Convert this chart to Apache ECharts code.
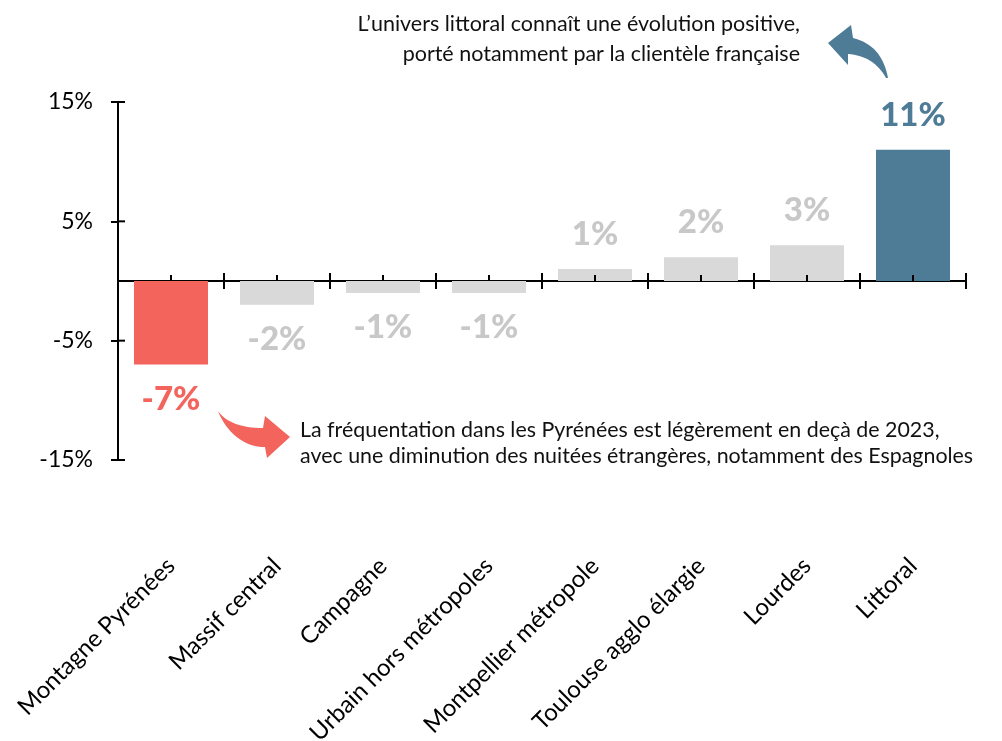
<!DOCTYPE html>
<html>
<head>
<meta charset="utf-8">
<script src="https://cdn.jsdelivr.net/npm/echarts@6/dist/echarts.min.js"></script>
<style>
html,body{margin:0;padding:0;background:#fff;}
#chart{width:1002px;height:741px;}
</style>
</head>
<body>
<div id="chart"></div>
<script>
const categories = ['Montagne Pyrénées','Massif central','Campagne','Urbain hors métropoles','Montpellier métropole','Toulouse agglo élargie','Lourdes','Littoral'];
const values = [-7, -2, -1, -1, 1, 2, 3, 11];
const barColors = ['#f2645c','#d9d9d9','#d9d9d9','#d9d9d9','#d9d9d9','#d9d9d9','#d9d9d9','#4e7b96'];
const labelColors = ['#f2645c','#c8c8c8','#c8c8c8','#c8c8c8','#c8c8c8','#c8c8c8','#c8c8c8','#4e7b96'];
const yTicks = { min: -15, max: 15, interval: 10 };
const yTickValues = [-15, -5, 5, 15];
const noteTop = ["L’univers littoral connaît une évolution positive,", "porté notamment par la clientèle française"];
const noteBottom = ["La fréquentation dans les Pyrénées est légèrement en deçà de 2023,", "avec une diminution des nuitées étrangères, notamment des Espagnoles"];

const FONT = 'Lato';
const chart = echarts.init(document.getElementById('chart'), null, {renderer:'canvas'});

// Build polygon outline from a list of segments (decorative arrow shapes)
function outline(start, segs) {
  const pts = [start];
  let cur = start;
  segs.forEach(s => {
    if (s.length === 1) { pts.push(s[0]); cur = s[0]; }
    else if (s.length === 2) {
      const [c, e] = s;
      for (let t = 1; t <= 16; t++) {
        const u = t / 16, a = (1-u)*(1-u), b = 2*(1-u)*u, d = u*u;
        pts.push([a*cur[0]+b*c[0]+d*e[0], a*cur[1]+b*c[1]+d*e[1]]);
      }
      cur = e;
    } else {
      const [c1, c2, e] = s;
      for (let t = 1; t <= 16; t++) {
        const u = t / 16, a = (1-u)**3, b = 3*(1-u)**2*u, c = 3*(1-u)*u*u, d = u**3;
        pts.push([a*cur[0]+b*c1[0]+c*c2[0]+d*e[0], a*cur[1]+b*c1[1]+c*c2[1]+d*e[1]]);
      }
      cur = e;
    }
  });
  return pts;
}

const blueArrow = outline([888,78], [[[882,45],[853,38]], [[851,25]], [[828,43]], [[848,65]], [[848,54]], [[874,56],[886,78]]]);
const redArrow = outline([218,411], [[[230,428],[263,428]], [[265,416]], [[290,437]], [[267,458]], [[265,447]], [[245,448],[226,432],[218,411]]]);

const tickStyle = { color: '#000', width: 2 };
const strokeStyle = { stroke: '#000', lineWidth: 2 };

const option = {
  animation: false,
  backgroundColor: '#fff',
  grid: { left: 118, right: 36, top: 102, bottom: 281, containLabel: false, outerBoundsMode: 'none' },
  xAxis: {
    type: 'category', data: categories, position: 'bottom',
    axisLine: { show: true, onZero: true, lineStyle: tickStyle },
    axisTick: { show: true, interval: 0, inside: false, length: 8, lineStyle: tickStyle },
    axisLabel: { show: true, rotate: 45, margin: 102, color: '#000', fontFamily: FONT, fontSize: 24, interval: 0 },
    splitLine: { show: false }
  },
  yAxis: {
    type: 'value', min: yTicks.min, max: yTicks.max, interval: yTicks.interval,
    axisLine: { show: true, lineStyle: tickStyle },
    axisTick: { show: true, inside: false, length: 7, lineStyle: tickStyle },
    axisLabel: { show: true, margin: 25, color: '#000', fontFamily: FONT, fontSize: 23, formatter: v => v + '%' },
    splitLine: { show: false }
  },
  series: [{
    type: 'bar',
    barWidth: 74,
    z: 2,
    data: values.map((v, i) => ({
      value: v,
      itemStyle: { color: barColors[i] },
      label: {
        show: true, position: v < 0 ? 'bottom' : 'top', distance: 18,
        formatter: v + '%', color: labelColors[i],
        fontFamily: FONT, fontWeight: 900, fontSize: 33
      }
    }))
  }, {
    // inner halves of the x-axis ticks: boundary ticks (crossing) and centre minor ticks
    type: 'custom', silent: true, z: 5,
    data: categories.map((c, i) => [i, 0]),
    renderItem: (params, api) => {
      const p = api.coord([api.value(0), 0]);
      const w = api.size([1, 0])[0];
      return { type: 'group', children: [
        { type: 'line', shape: { x1: p[0], y1: p[1], x2: p[0], y2: p[1] - 6 }, style: strokeStyle },
        { type: 'line', shape: { x1: p[0] + w / 2, y1: p[1], x2: p[0] + w / 2, y2: p[1] - 8 }, style: strokeStyle }
      ]};
    }
  }, {
    // inner halves of the y-axis ticks
    type: 'custom', silent: true, z: 5,
    data: yTickValues.map(v => [0, v]),
    renderItem: (params, api) => {
      const p = api.coord([0, api.value(1)]);
      const w = api.size([1, 0])[0];
      const x = p[0] - w / 2;
      return { type: 'line', shape: { x1: x, y1: p[1], x2: x + 7, y2: p[1] }, style: strokeStyle };
    }
  }],
  graphic: [
    {
      type: 'text', x: 800, y: 9,
      style: { text: noteTop.join('\n'), font: '21.5px ' + FONT, fill: '#111', textAlign: 'right', textVerticalAlign: 'top', lineHeight: 30 }
    },
    {
      type: 'text', x: 300, y: 417,
      style: { text: noteBottom.join('\n'), font: '21.4px ' + FONT, fill: '#111', textAlign: 'left', textVerticalAlign: 'top', lineHeight: 26 }
    },
    { type: 'polygon', shape: { points: blueArrow }, style: { fill: '#4e7b96' } },
    { type: 'polygon', shape: { points: redArrow }, style: { fill: '#f2645c' } }
  ]
};
chart.setOption(option);
</script>
</body>
</html>
